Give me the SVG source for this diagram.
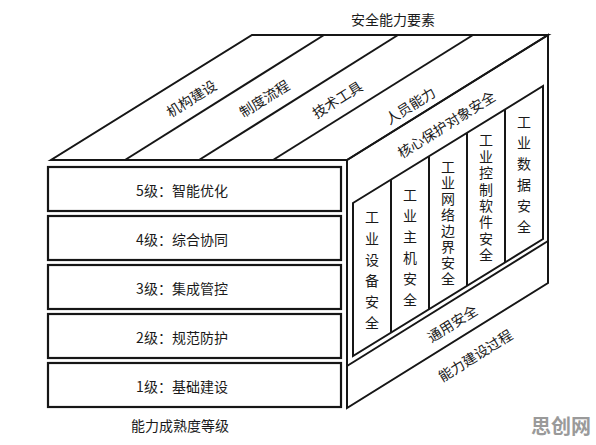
<svg xmlns="http://www.w3.org/2000/svg" width="596" height="445" viewBox="0 0 596 445">
<style>
.ln{fill:none;stroke:#161616;stroke-width:2;stroke-linejoin:miter}
.bx{fill:#fff;stroke:#161616;stroke-width:2.2}
.t{font-family:"Noto Sans CJK SC","Noto Sans",sans-serif;font-size:14px;fill:#1a1a1a;text-anchor:middle;dominant-baseline:central}
.v{font-family:"Noto Sans CJK SC","Noto Sans",sans-serif;font-size:14px;fill:#1a1a1a;writing-mode:vertical-rl;text-anchor:start}
.wm{font-family:"Noto Sans CJK SC",sans-serif;font-size:20px;font-weight:bold;fill:#9a9a9a;text-anchor:middle;dominant-baseline:central}
</style>
<rect width="596" height="445" fill="#fff"/>

<g id="connectors">
  <!-- top face -->
  <polygon class="ln" points="51,160 347,160 548,35 252,35"/>
  <line class="ln" x1="125" y1="160" x2="324" y2="35"/>
  <line class="ln" x1="199" y1="160" x2="398" y2="35"/>
  <line class="ln" x1="273" y1="160" x2="473" y2="35"/>
  <!-- right face -->
  <polygon class="ln" points="347,160 548,35 548,283 347,408"/>
  <line class="ln" x1="347" y1="366" x2="548" y2="241"/>
</g>

<g id="title-top"><text class="t" x="393" y="19">安全能力要素</text></g>

<g id="el-org"><text class="t" transform="translate(191,98) rotate(-32)">机构建设</text></g>
<g id="el-proc"><text class="t" transform="translate(264,98) rotate(-32)">制度流程</text></g>
<g id="el-tech"><text class="t" transform="translate(337,99) rotate(-32)">技术工具</text></g>
<g id="el-staff"><text class="t" transform="translate(410,105) rotate(-32)">人员能力</text></g>

<g id="lv5"><rect class="bx" x="48" y="167" width="293" height="44"/><text class="t" x="182" y="190">5级：智能优化</text></g>
<g id="lv4"><rect class="bx" x="48" y="216" width="293" height="44"/><text class="t" x="182" y="239">4级：综合协同</text></g>
<g id="lv3"><rect class="bx" x="48" y="265" width="293" height="44"/><text class="t" x="182" y="288">3级：集成管控</text></g>
<g id="lv2"><rect class="bx" x="48" y="314" width="293" height="44"/><text class="t" x="182" y="337">2级：规范防护</text></g>
<g id="lv1"><rect class="bx" x="48" y="363" width="293" height="44"/><text class="t" x="182" y="386">1级：基础建设</text></g>
<g id="title-front"><text class="t" x="180" y="425">能力成熟度等级</text></g>

<g id="core">
  <polygon class="ln" points="353,203 543,86 543,239 353,356"/>
  <text class="t" transform="translate(446,124) rotate(-32)">核心保护对象安全</text>
</g>

<g id="col1">
  <line class="ln" x1="391" y1="180" x2="391" y2="333"/>
  <text class="v" x="372" y="210" style="letter-spacing:7.2px">工业设备安全</text>
</g>
<g id="col2">
  <line class="ln" x1="429" y1="156" x2="429" y2="309"/>
  <text class="v" x="410" y="188" style="letter-spacing:7px">工业主机安全</text>
</g>
<g id="col3">
  <line class="ln" x1="467" y1="133" x2="467" y2="286"/>
  <text class="v" x="448" y="160" style="letter-spacing:2px">工业网络边界安全</text>
</g>
<g id="col4">
  <line class="ln" x1="505" y1="109" x2="505" y2="262"/>
  <text class="v" x="486" y="133" style="letter-spacing:2.4px">工业控制软件安全</text>
</g>
<g id="col5">
  <text class="v" x="524" y="115" style="letter-spacing:7px">工业数据安全</text>
</g>

<g id="general"><text class="t" transform="translate(452,323) rotate(-32)">通用安全</text></g>
<g id="title-right"><text class="t" transform="translate(475,355) rotate(-32)">能力建设过程</text></g>

<g id="watermark"><text class="wm" x="561" y="425">思创网</text></g>
</svg>
